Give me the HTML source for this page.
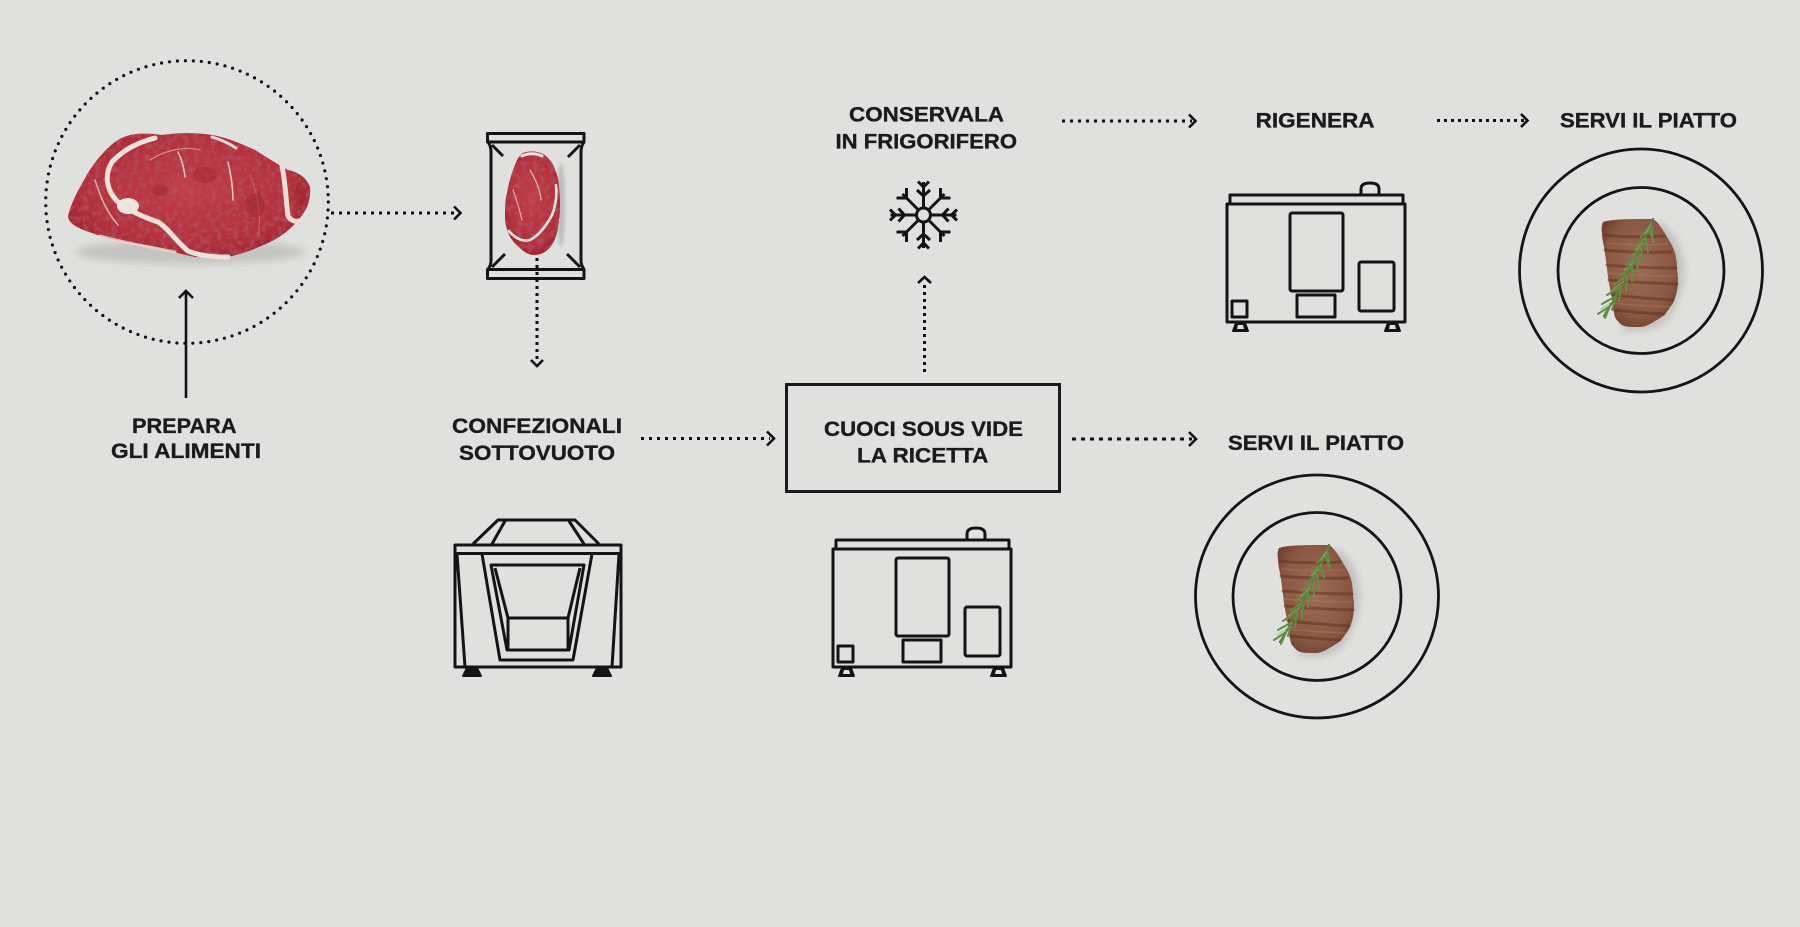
<!DOCTYPE html>
<html>
<head>
<meta charset="utf-8">
<style>
html,body{margin:0;padding:0;background:#e0e0de;overflow:hidden;}
svg{display:block;}
</style>
</head>
<body>
<svg width="1800" height="927" viewBox="0 0 1800 927" xmlns="http://www.w3.org/2000/svg">
<defs>
  <filter id="blur4" x="-30%" y="-30%" width="160%" height="160%"><feGaussianBlur stdDeviation="4"/></filter>
  <filter id="blur2" x="-30%" y="-30%" width="160%" height="160%"><feGaussianBlur stdDeviation="1.5"/></filter>
  <filter id="mottle" x="0" y="0" width="100%" height="100%">
    <feTurbulence type="fractalNoise" baseFrequency="0.18" numOctaves="2" seed="7" result="n"/>
    <feColorMatrix in="n" type="matrix" values="0 0 0 0 0.45  0 0 0 0 0.08  0 0 0 0 0.12  0 0 0 -2.2 1.25" result="m"/>
    <feComposite in="m" in2="SourceGraphic" operator="in" result="c"/>
    <feMerge><feMergeNode in="SourceGraphic"/><feMergeNode in="c"/></feMerge>
  </filter>
  <radialGradient id="raw" cx="0.5" cy="0.45" r="0.6">
    <stop offset="0" stop-color="#c23e48"/>
    <stop offset="0.7" stop-color="#b3313b"/>
    <stop offset="1" stop-color="#9c2630"/>
  </radialGradient>
  <radialGradient id="grill" cx="0.5" cy="0.45" r="0.6">
    <stop offset="0" stop-color="#9d6c56"/>
    <stop offset="0.75" stop-color="#8a5842"/>
    <stop offset="1" stop-color="#704230"/>
  </radialGradient>
  <g id="machine" fill="none" stroke="#141414" stroke-width="3" stroke-linejoin="round">
    <rect x="3" y="0" width="173" height="9"/>
    <rect x="0" y="9" width="178" height="118"/>
    <path d="M134,0 L134,-6 Q134,-12 143,-12 Q152,-12 152,-6 L152,0"/>
    <rect x="63" y="18" width="53" height="78" rx="2"/>
    <rect x="70" y="100" width="38" height="22"/>
    <rect x="132" y="67" width="35" height="49" rx="2"/>
    <rect x="5" y="106" width="15" height="16"/>
    <polygon points="9,128 18,128 21,136 6,136" fill="#141414" stroke-width="2"/>
    <polygon points="161,128 170,128 173,136 158,136" fill="#141414" stroke-width="2"/>
    <polygon points="11,130 16,130 17,134 10,134" fill="#e0e0de" stroke="none"/>
    <polygon points="163,130 168,130 169,134 162,134" fill="#e0e0de" stroke="none"/>
  </g>
  <g id="grilled">
    <path d="M1622,330 Q1648,334 1665,322 Q1684,300 1684,265 Q1680,235 1660,222 L1640,240 Z" fill="#9a9a98" opacity="0.45" filter="url(#blur4)"/>
    <path d="M1603,222 C1612,219 1630,219 1653,219 C1658,222 1662,228 1670,242 C1675,250 1677,258 1677,270 C1679,280 1678,293 1673,303 C1668,311 1664,316 1660,318 C1652,323 1646,327 1640,327 C1632,327 1625,327 1622,325 C1618,322 1615,318 1615,317 C1613,310 1612,303 1612,297 C1610,290 1609,283 1608,277 C1607,268 1606,260 1605,253 C1604,245 1602,240 1602,233 C1601,228 1602,224 1603,222 Z" fill="url(#grill)"/>
    <g stroke="#5a2c1c" stroke-width="3" stroke-linecap="round" opacity="0.45" fill="none">
      <path d="M1604,235 Q1630,238 1664,236"/>
      <path d="M1605,250 Q1635,253 1671,252"/>
      <path d="M1607,265 Q1640,268 1676,268"/>
      <path d="M1609,280 Q1640,283 1677,284"/>
      <path d="M1612,295 Q1640,298 1673,300"/>
      <path d="M1615,310 Q1640,313 1664,314"/>
    </g>
    <g stroke="#b0785a" stroke-width="1.4" opacity="0.45" fill="none">
      <path d="M1606,243 Q1635,246 1668,244"/>
      <path d="M1608,273 Q1640,276 1676,276"/>
      <path d="M1613,303 Q1640,306 1670,307"/>
    </g>
    <g stroke-linecap="round" fill="none">
      <path d="M1653,219 Q1635,265 1604,316" stroke="#5d7f3a" stroke-width="2.2"/>
      <g stroke="#5f8f45" stroke-width="2">
        <path d="M1651,224 l2,12"/><path d="M1651,224 l-6,9"/>
        <path d="M1649,229 l5,14"/><path d="M1649,229 l-8,8"/>
        <path d="M1645,238 l3,14"/><path d="M1645,238 l-9,8"/>
        <path d="M1641,248 l2,15"/><path d="M1641,248 l-10,8"/>
        <path d="M1637,257 l1,15"/><path d="M1637,257 l-11,8"/>
        <path d="M1632,266 l0,15"/><path d="M1632,266 l-12,9"/>
        <path d="M1627,276 l-1,16"/><path d="M1627,276 l-13,9"/>
        <path d="M1621,286 l-2,15"/><path d="M1621,286 l-14,9"/>
        <path d="M1616,296 l-4,14"/><path d="M1616,296 l-14,8"/>
        <path d="M1610,306 l-5,12"/><path d="M1610,306 l-12,8"/>
      </g>
      <g stroke="#8cb86a" stroke-width="1" opacity="0.8">
        <path d="M1650,226 l-5,8"/><path d="M1643,243 l-8,7"/><path d="M1634,262 l-10,8"/><path d="M1624,281 l-12,9"/><path d="M1613,301 l-12,8"/>
      </g>
    </g>
  </g>
</defs>

<rect width="1800" height="927" fill="#e0e0de"/>

<!-- dotted circle with raw steak -->
<circle cx="187" cy="202" r="141.3" fill="none" stroke="#111" stroke-width="3.2" stroke-linecap="round" stroke-dasharray="0 8"/>

<!-- raw steak -->
<ellipse cx="190" cy="252" rx="115" ry="12" fill="#8e8e8c" opacity="0.35" filter="url(#blur4)"/>
<g filter="url(#mottle)">
<path d="M68,217 C70,205 78,190 88,173 C96,160 108,146 118,140 C128,134 140,132 162,135 C175,133 195,132 212,135 C225,137 240,143 255,150 C265,156 275,163 288,170 C298,172 306,177 310,187 C311,198 308,210 298,220 C292,228 280,238 268,243 C255,249 240,255 222,258 C210,258 200,257 195,257 C180,254 160,248 145,245 C130,243 110,240 92,233 C80,229 70,225 68,217 Z" fill="url(#raw)"/>
</g>
<g fill="none" stroke-linecap="round">
  <path d="M155,138 C140,142 125,148 112,162 C104,175 106,190 118,202 C128,210 140,216 158,222 C168,228 175,240 188,251 C200,256 215,257 228,257" stroke="#efe2dc" stroke-width="5"/>
  <ellipse cx="128" cy="206" rx="11" ry="8" fill="#efe4df" stroke="none"/>
  <path d="M282,166 C285,180 286,200 288,216 C290,220 295,222 298,221" stroke="#eddcd6" stroke-width="5"/>
  <path d="M212,137 C222,140 230,144 236,148" stroke="#ecd9d3" stroke-width="3"/>
  <path d="M178,152 C182,160 184,168 185,177" stroke="#e7cfca" stroke-width="1.5"/>
  <path d="M228,162 C231,175 233,188 233,200" stroke="#e7cfca" stroke-width="1.5"/>
  <path d="M95,180 C100,195 105,210 118,225" stroke="#dcaeb0" stroke-width="1.5"/>
  <path d="M150,160 C165,150 185,146 200,150" stroke="#d98a90" stroke-width="1.2"/>
  <path d="M100,236 C125,243 150,247 175,252" stroke="#e9d6d2" stroke-width="3" opacity="0.8"/>
  <path d="M250,175 C258,195 262,215 258,235" stroke="#c45a62" stroke-width="1.2"/>
</g>
<g fill="#9a2530" opacity="0.45">
  <ellipse cx="205" cy="175" rx="12" ry="8"/>
  <ellipse cx="255" cy="205" rx="10" ry="12"/>
  <ellipse cx="160" cy="190" rx="8" ry="6"/>
  <ellipse cx="300" cy="195" rx="6" ry="12"/>
</g>

<!-- solid up arrow -->
<path d="M186,398 L186,292" stroke="#111" stroke-width="2.6" fill="none"/>
<path d="M179,298 L186,291 L193,298" stroke="#111" stroke-width="2.6" fill="none" stroke-linejoin="miter"/>

<!-- circle -> bag -->
<path d="M331,213 L456,213" stroke="#111" stroke-width="3" stroke-dasharray="3 5" fill="none"/>
<path d="M454,206.5 L460.5,213 L454,219.5" stroke="#111" stroke-width="2.6" fill="none"/>

<!-- bag -->
<g fill="none" stroke="#141414" stroke-width="3" stroke-linejoin="round">
  <rect x="487.5" y="133.5" width="96.5" height="8.5"/>
  <rect x="487.5" y="269.5" width="96.5" height="9"/>
  <path d="M488,142 Q491,146 491,152 L491,260 Q491,266 488,269"/>
  <path d="M584,142 Q581,146 581,152 L581,260 Q581,266 584,269"/>
  <path d="M492,145 L503,156"/>
  <path d="M580,145 L568,157"/>
  <path d="M492,267 L505,254"/>
  <path d="M580,267 L567,254"/>
</g>
<ellipse cx="561" cy="205" rx="4" ry="42" fill="#999" opacity="0.5" filter="url(#blur2)"/>
<g filter="url(#mottle)">
<path d="M523,153 C528,151 533,151 537,152 C542,153 545,155 547,157 C551,161 554,165 555,170 C558,176 559,182 559,187 C560,194 560,200 560,207 C560,214 559,220 558,227 C557,233 556,238 553,243 C550,248 547,251 543,253 C539,255 535,255 532,255 C527,254 523,251 520,248 C515,244 512,240 510,237 C507,230 505,224 505,217 C505,209 505,200 507,193 C508,186 510,179 512,173 C514,167 516,162 518,158 C520,156 521,154 523,153 Z" fill="url(#raw)"/>
</g>
<g fill="none" stroke-linecap="round">
  <path d="M522,156 C528,153 536,153 542,156" stroke="#efe0da" stroke-width="3"/>
  <path d="M509,231 C515,238 522,242 530,240 C538,236 545,228 552,215 C556,205 557,195 556,185" stroke="#efe2dc" stroke-width="2.6"/>
  <path d="M513,190 C517,200 520,212 522,220" stroke="#dcaeb0" stroke-width="1.2"/>
  <path d="M530,170 C536,180 540,190 541,200" stroke="#e3c4c2" stroke-width="1.2"/>
</g>

<!-- bag -> down -->
<path d="M537,258 L537,361" stroke="#111" stroke-width="3" stroke-dasharray="3 4" fill="none"/>
<path d="M531,360 L537,366 L543,360" stroke="#111" stroke-width="2.6" fill="none"/>

<!-- texts -->
<g font-family="'Liberation Sans', Arial, sans-serif" font-weight="700" font-size="21" fill="#1b1b1b" stroke="#1b1b1b" stroke-width="0.35">
  <text x="132" y="433" textLength="104.5" lengthAdjust="spacingAndGlyphs">PREPARA</text>
  <text x="111" y="458" textLength="150" lengthAdjust="spacingAndGlyphs">GLI ALIMENTI</text>
  <text x="452" y="433" textLength="170" lengthAdjust="spacingAndGlyphs">CONFEZIONALI</text>
  <text x="459" y="460" textLength="156" lengthAdjust="spacingAndGlyphs">SOTTOVUOTO</text>
  <text x="849" y="121.5" textLength="155" lengthAdjust="spacingAndGlyphs">CONSERVALA</text>
  <text x="835.5" y="148.3" textLength="181.5" lengthAdjust="spacingAndGlyphs">IN FRIGORIFERO</text>
  <text x="824" y="436" textLength="199" lengthAdjust="spacingAndGlyphs">CUOCI SOUS VIDE</text>
  <text x="857" y="462.7" textLength="131.4" lengthAdjust="spacingAndGlyphs">LA RICETTA</text>
  <text x="1255.6" y="127.3" textLength="119" lengthAdjust="spacingAndGlyphs">RIGENERA</text>
  <text x="1560" y="127.3" textLength="177" lengthAdjust="spacingAndGlyphs">SERVI IL PIATTO</text>
  <text x="1228" y="450" textLength="176" lengthAdjust="spacingAndGlyphs">SERVI IL PIATTO</text>
</g>

<!-- confezionali -> box -->
<path d="M641,438.5 L770,438.5" stroke="#111" stroke-width="3" stroke-dasharray="3 5" fill="none"/>
<path d="M767,431.5 L774,438.5 L767,445.5" stroke="#111" stroke-width="2.6" fill="none"/>

<!-- box -->
<rect x="786.5" y="384.5" width="273" height="107" fill="none" stroke="#1a1a1a" stroke-width="3"/>

<!-- box -> servi -->
<path d="M1072,439 L1192,439" stroke="#111" stroke-width="3" stroke-dasharray="4 5" fill="none"/>
<path d="M1189,432 L1196,439 L1189,446" stroke="#111" stroke-width="2.6" fill="none"/>

<!-- box up -->
<path d="M924.5,372 L924.5,285" stroke="#111" stroke-width="3" stroke-dasharray="3 4" fill="none"/>
<path d="M918,283 L924.5,277 L931,283" stroke="#111" stroke-width="2.6" fill="none"/>

<!-- snowflake -->
<g transform="translate(923.5,215)" stroke="#141414" stroke-width="3" fill="none" stroke-linecap="butt">
  <circle cx="0" cy="0" r="7"/>
  <g id="arm">
    <path d="M0,-7 L0,-33"/>
    <path d="M-5.5,-33.5 L0,-28 L5.5,-33.5"/>
    <path d="M-6.5,-25 L0,-19 L6.5,-25"/>
  </g>
  <use href="#arm" transform="rotate(90)"/>
  <use href="#arm" transform="rotate(180)"/>
  <use href="#arm" transform="rotate(270)"/>
  <g id="diag">
    <path d="M-5,-5 L-21,-21"/>
    <path d="M-27,-17 L-17,-17 L-17,-27"/>
  </g>
  <use href="#diag" transform="rotate(90)"/>
  <use href="#diag" transform="rotate(180)"/>
  <use href="#diag" transform="rotate(270)"/>
</g>

<!-- conserva -> rigenera -->
<path d="M1062,121 L1192,121" stroke="#111" stroke-width="3" stroke-dasharray="3 5" fill="none"/>
<path d="M1189,114.5 L1195.5,121 L1189,127.5" stroke="#111" stroke-width="2.6" fill="none"/>

<!-- rigenera -> servi -->
<path d="M1437,120.5 L1525,120.5" stroke="#111" stroke-width="3" stroke-dasharray="3 4" fill="none"/>
<path d="M1521,114 L1527.5,120.5 L1521,127" stroke="#111" stroke-width="2.6" fill="none"/>

<!-- machines -->
<use href="#machine" transform="translate(1227,195)"/>
<use href="#machine" transform="translate(833,540)"/>

<!-- vacuum machine -->
<g fill="none" stroke="#141414" stroke-width="3" stroke-linejoin="round">
  <rect x="455" y="545" width="166" height="122"/>
  <path d="M455,553.5 L621,553.5"/>
  <path d="M473,544 L498,520 L575,520 L599,544"/>
  <path d="M492,544 L505,521"/>
  <path d="M584,544 L569,521"/>
  <path d="M482,554 L500,660 L573,660 L592,554"/>
  <polygon points="491,565 584,565 569,650 507,650"/>
  <path d="M495,568 L508,618"/>
  <path d="M580,568 L568,618"/>
  <rect x="508" y="618" width="60" height="32"/>
  <path d="M457,554 L465,667"/>
  <path d="M619,554 L612,667"/>
  <polygon points="467,668 477,668 481,676 463,676" fill="#141414" stroke-width="2"/>
  <polygon points="597,668 607,668 611,676 593,676" fill="#141414" stroke-width="2"/>
</g>

<!-- plates -->
<g fill="none" stroke="#151515" stroke-width="2.8">
  <circle cx="1641" cy="270.5" r="121.5"/>
  <circle cx="1641" cy="270.5" r="83"/>
  <circle cx="1317" cy="596.5" r="121.5"/>
  <circle cx="1317" cy="596.5" r="84"/>
</g>
<use href="#grilled"/>
<use href="#grilled" transform="translate(-324,326)"/>

</svg>
</body>
</html>
